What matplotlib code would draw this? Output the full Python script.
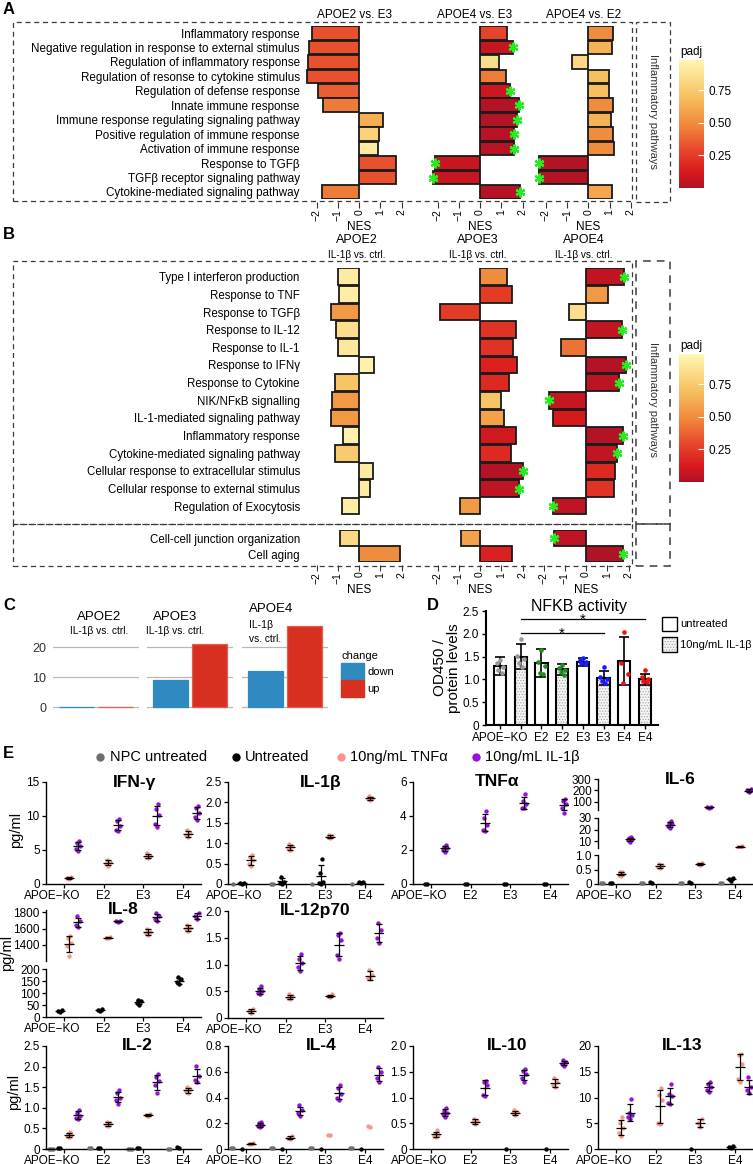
import numpy as np
import matplotlib
matplotlib.use('Agg')
import matplotlib.pyplot as plt
from matplotlib.colors import LinearSegmentedColormap, Normalize
from matplotlib.cm import ScalarMappable
from matplotlib.patches import Rectangle
from matplotlib.lines import Line2D
import matplotlib.transforms as mtransforms

plt.rcParams['font.family'] = ['Liberation Sans', 'DejaVu Sans']
plt.rcParams['hatch.linewidth'] = 0.6

# ---------------- Panel A data (NES, padj, significant) ----------------
a_terms = ["Inflammatory response",
           "Negative regulation in response to external stimulus",
           "Regulation of inflammatory response",
           "Regulation of resonse to cytokine stimulus",
           "Regulation of defense response",
           "Innate immune response",
           "Immune response regulating signaling pathway",
           "Positive regulation of immune response",
           "Activation of immune response",
           "Response to TGFβ",
           "TGFβ receptor signaling pathway",
           "Cytokine-mediated signaling pathway"]
a_titles = ["APOE2 vs. E3", "APOE4 vs. E3", "APOE4 vs. E2"]
a_e2e3_nes = [-2.24, -2.35, -2.42, -2.44, -1.95, -1.69, 1.10, 0.95, 0.88, 1.75, 1.75, -1.75]
a_e2e3_padj = [0.32, 0.32, 0.32, 0.32, 0.36, 0.45, 0.63, 0.79, 0.92, 0.32, 0.32, 0.45]
a_e2e3_sig = [0, 0, 0, 0, 0, 0, 0, 0, 0, 0, 0, 0]
a_e4e3_nes = [1.29, 1.53, 0.89, 1.24, 1.43, 1.82, 1.74, 1.59, 1.62, -2.12, -2.20, 1.88]
a_e4e3_padj = [0.28, 0.08, 0.85, 0.45, 0.09, 0.02, 0.02, 0.03, 0.03, 0.08, 0.08, 0.02]
a_e4e3_sig = [0, 1, 0, 0, 1, 1, 1, 1, 1, 1, 1, 1]
a_e4e2_nes = [1.18, 1.10, -0.78, 0.99, 0.99, 1.18, 1.05, 1.18, 1.22, -2.30, -2.30, 1.13]
a_e4e2_padj = [0.50, 0.64, 0.82, 0.70, 0.70, 0.50, 0.65, 0.50, 0.50, 0.02, 0.02, 0.60]
a_e4e2_sig = [0, 0, 0, 0, 0, 0, 0, 0, 0, 1, 1, 0]

# ---------------- Panel B data ----------------
b_terms = ["Type I interferon production", "Response to TNF", "Response to TGFβ",
           "Response to IL-12", "Response to IL-1", "Response to IFNγ",
           "Response to Cytokine", "NIK/NFκB signalling",
           "IL-1-mediated signaling pathway", "Inflammatory response",
           "Cytokine-mediated signaling pathway",
           "Cellular response to extracellular stimulus",
           "Cellular response to external stimulus", "Regulation of Exocytosis"]
b_terms2 = ["Cell-cell junction organization", "Cell aging"]
b_titles = ["APOE2", "APOE3", "APOE4"]
b_e2_nes = [-1.0, -0.95, -1.32, -1.08, -1.0, 0.71, -1.14, -1.29, -1.34, -0.74, -1.14, 0.67, 0.51, -0.82]
b_e2_padj = [0.92, 0.93, 0.55, 0.85, 0.90, 0.95, 0.72, 0.55, 0.55, 0.95, 0.75, 0.92, 0.92, 0.93]
b_e2_sig = [0] * 14
b_e3_nes = [1.25, 1.49, -1.88, 1.68, 1.57, 1.76, 1.38, 0.97, 1.13, 1.69, 1.45, 2.0, 1.85, -0.94]
b_e3_padj = [0.50, 0.25, 0.25, 0.22, 0.22, 0.15, 0.18, 0.72, 0.58, 0.10, 0.18, 0.02, 0.05, 0.55]
b_e3_sig = [0, 0, 0, 0, 0, 0, 0, 0, 0, 0, 0, 1, 1, 0]
b_e4_nes = [1.79, 1.05, -0.79, 1.71, -1.17, 1.87, 1.53, -1.72, -1.53, 1.76, 1.45, 1.38, 1.30, -1.53]
b_e4_padj = [0.05, 0.55, 0.85, 0.06, 0.42, 0.02, 0.04, 0.07, 0.12, 0.02, 0.06, 0.18, 0.22, 0.05]
b_e4_sig = [1, 0, 0, 1, 0, 1, 1, 1, 0, 1, 1, 0, 0, 1]
b2_e2_nes, b2_e2_padj, b2_e2_sig = [-0.92, 1.90], [0.82, 0.50], [0, 0]
b2_e3_nes, b2_e3_padj, b2_e3_sig = [-0.90, 1.52], [0.58, 0.15], [0, 0]
b2_e4_nes, b2_e4_padj, b2_e4_sig = [-1.52, 1.73], [0.05, 0.01], [1, 1]

# ---------------- Panel C data (number of DE genes) ----------------
c_groups = ["APOE2", "APOE3", "APOE4"]
c_down = [0, 9, 12]
c_up = [0, 21, 27]

# ---------------- Panel D data (NFKB activity) ----------------
d_labels = ["APOE−KO", "", "E2", "E2", "E3", "E3", "E4", "E4"]
d_treated = [0, 1, 0, 1, 0, 1, 0, 1]
d_mean = [1.30, 1.50, 1.36, 1.22, 1.38, 1.03, 1.40, 1.00]
d_sd = [0.20, 0.27, 0.30, 0.12, 0.08, 0.15, 0.53, 0.12]
d_points = [[1.42, 1.35, 1.28, 1.20, 1.15],
            [1.88, 1.52, 1.45, 1.35, 1.28],
            [1.65, 1.38, 1.30, 1.13, 1.12],
            [1.32, 1.25, 1.20, 1.16, 1.10],
            [1.46, 1.42, 1.38, 1.35, 1.33],
            [1.27, 1.05, 1.00, 0.96, 0.93],
            [2.05, 1.35, 1.12, 0.93],
            [1.21, 1.05, 1.00, 0.97, 0.95]]

# ---------------- Panel E data (pg/ml, groups KO, E2, E3, E4) ----------------
e_groups = ["APOE−KO", "E2", "E3", "E4"]
e_legend = ["NPC untreated", "Untreated", "10ng/mL TNFα", "10ng/mL IL-1β"]

ifng_npc = None
ifng_unt = None
ifng_tnf = [[0.7, 0.85, 1.05], [2.7, 3.0, 3.3, 3.6], [3.8, 3.95, 4.1, 4.5], [6.9, 7.2, 7.5, 7.9]]
ifng_il1b = [[4.8, 5.2, 5.6, 6.1, 6.3], [7.8, 8.0, 8.6, 9.2, 9.6],
             [8.4, 8.8, 10.2, 11.0, 11.7], [9.4, 9.9, 10.4, 11.2, 11.5]]

il1b_npc = [[0.0], [0.01, 0.01], [0.0], [0.0]]
il1b_unt = [[0.0, 0.02, 0.03], [0.0, 0.03, 0.06, 0.18], [0.0, 0.03, 0.06, 0.28, 0.62], [0.02, 0.04, 0.05]]
il1b_tnf = [[0.45, 0.5, 0.58, 0.65, 0.7], [0.83, 0.88, 0.93, 0.97], [1.12, 1.15, 1.18, 1.2], [2.05, 2.08, 2.12, 2.15]]
il1b_il1b = None

tnfa_npc = None
tnfa_unt = [[0.0, 0.01], [0.0, 0.01], [0.0, 0.01], [0.0, 0.01]]
tnfa_tnf = None
tnfa_il1b = [[1.9, 2.0, 2.1, 2.2, 2.3], [3.1, 3.2, 3.5, 3.9, 4.3],
             [4.45, 4.5, 4.7, 4.9, 5.3], [4.2, 4.5, 4.7, 4.9, 5.0]]

il6_npc = [[0.02, 0.02], [0.02, 0.02], [0.02, 0.02], [0.02, 0.02]]
il6_unt = [[0.03, 0.05], [0.04, 0.06], [0.04, 0.06], [0.12, 0.17, 0.2]]
il6_tnf = [[0.28, 0.32, 0.36, 0.4, 0.43], [0.55, 0.6, 0.65, 0.68], [0.67, 0.7, 0.74], [4.6, 5.0, 5.3]]
il6_il1b = [[9.5, 10.5, 11.5, 12.5, 13.5], [21, 23, 24.5, 26, 27], [50, 55, 60], [185, 200, 212]]

il8_npc = None
il8_unt = [[20, 24, 28], [27, 30, 33], [50, 60, 66, 72], [138, 145, 158, 165]]
il8_tnf = [[1260, 1380, 1420, 1480, 1510], [1480, 1490, 1500], [1520, 1540, 1560, 1600], [1570, 1590, 1610, 1650]]
il8_il1b = [[1620, 1650, 1700, 1750], [1680, 1690, 1700], [1690, 1720, 1760, 1790], [1720, 1750, 1790]]

il12_npc = None
il12_unt = None
il12_tnf = [[0.1, 0.13, 0.17], [0.36, 0.38, 0.41, 0.44], [0.39, 0.41, 0.44], [0.72, 0.75, 0.8, 0.9]]
il12_il1b = [[0.44, 0.47, 0.5, 0.54, 0.59], [0.88, 0.95, 1.02, 1.1, 1.2],
             [1.1, 1.18, 1.45, 1.55, 1.58], [1.4, 1.5, 1.65, 1.78]]

il2_npc = [[0.01, 0.01, 0.01], [0.02, 0.02], [0.01, 0.01, 0.01], [0.01, 0.01]]
il2_unt = [[0.02, 0.03], [0.02, 0.03], [0.02, 0.03], [0.03, 0.04]]
il2_tnf = [[0.3, 0.31, 0.33, 0.36, 0.42], [0.56, 0.59, 0.62, 0.66], [0.8, 0.83, 0.86], [1.35, 1.4, 1.45, 1.5]]
il2_il1b = [[0.72, 0.76, 0.8, 0.88, 0.95], [1.1, 1.18, 1.25, 1.35, 1.42],
            [1.35, 1.55, 1.65, 1.75, 1.82], [1.62, 1.68, 1.78, 2.02]]

il4_npc = [[0.005, 0.005], [0.005, 0.005], [0.005, 0.005], [0.005, 0.005]]
il4_unt = [[0.002], [0.002], [0.002], [0.002]]
il4_tnf = [[0.036, 0.042, 0.048], [0.078, 0.088, 0.1], [0.105, 0.11], [0.172, 0.18]]
il4_il1b = [[0.17, 0.18, 0.19, 0.2, 0.21], [0.26, 0.28, 0.3, 0.34],
            [0.38, 0.4, 0.43, 0.47, 0.5], [0.52, 0.55, 0.6, 0.64]]

il10_npc = None
il10_unt = [None, None, [0.0], [0.0]]
il10_tnf = [[0.23, 0.25, 0.27, 0.3, 0.37], [0.48, 0.52, 0.55, 0.58], [0.66, 0.69, 0.72, 0.75], [1.2, 1.25, 1.3, 1.38]]
il10_il1b = [[0.63, 0.67, 0.7, 0.74, 0.79], [1.02, 1.05, 1.25, 1.3, 1.32],
             [1.3, 1.38, 1.45, 1.52, 1.55], [1.62, 1.65, 1.68, 1.72]]

il13_npc = None
il13_unt = [None, None, [0.05], [0.15, 0.35, 0.55]]
il13_tnf = [[2.5, 3.1, 4.0, 5.0, 6.2], [4.8, 5.1, 9.5, 10.5, 11.8], [4.3, 5.0, 5.8], [13.0, 13.5, 16.5, 18.2, 18.4]]
il13_il1b = [[5.8, 6.2, 6.6, 7.0, 9.8], [8.7, 9.0, 10.2, 10.6, 12.7],
             [11.0, 11.5, 12.0, 12.6, 13.1], [10.8, 11.4, 12.0, 14.0]]

# ---------------- figure helpers (pixel coordinates, origin top-left) ----------------
W, H = 753, 1164
fig = plt.figure(figsize=(W / 100, H / 100), dpi=100)


def pax(x0, y0, x1, y1):
    ax = fig.add_axes([x0 / W, 1 - y1 / H, (x1 - x0) / W, (y1 - y0) / H])
    ax.patch.set_alpha(0)
    return ax


def ftext(x, y, s, **kw):
    return fig.text(x / W, 1 - y / H, s, **kw)


def dbox(x0, y0, x1, y1, dash=(4, 3), lw=0.9):
    fig.add_artist(Rectangle((x0 / W, 1 - y1 / H), (x1 - x0) / W, (y1 - y0) / H,
                             transform=fig.transFigure, fill=False, lw=lw,
                             ls=(0, dash), ec='#3a3a3a'))


padj_cmap = LinearSegmentedColormap.from_list(
    'padj', [(0, '#ad1127'), (0.12, '#d7191c'), (0.3, '#e8472b'), (0.5, '#f08a3c'),
             (0.72, '#f7c260'), (1, '#fff6b4')])
norm = Normalize(0, 0.98)
PX = 21.25  # pixels per NES unit


def nes_axes(zero_px, ytop, ybot, nrows, ticks):
    half = 2.6 * PX
    ax = pax(zero_px - half, ytop, zero_px + half, ybot)
    ax.set_xlim(-2.6, 2.6)
    ax.set_ylim(nrows - 0.5, -0.5)
    for s in ax.spines.values():
        s.set_visible(False)
    ax.set_yticks([])
    if ticks:
        ax.spines['bottom'].set_position(('outward', 2))
        ax.set_xticks([-2, -1, 0, 1, 2])
        ax.set_xticklabels(['−2', '−1', '0', '1', '2'], rotation=90)
        ax.tick_params(axis='x', length=4, width=0.8, labelsize=7.5, pad=1, color='#333333')
        ax.set_xlabel('NES', fontsize=8.5, labelpad=0)
    else:
        ax.set_xticks([])
    return ax


def nes_bars(ax, nes, padj, sig):
    y = np.arange(len(nes))
    ax.barh(y, nes, height=0.94, color=padj_cmap(norm(padj)), edgecolor='#1a1a1a', lw=1.3, zorder=2)
    for yi, v, s in zip(y, nes, sig):
        if s:
            ax.plot(v, yi, marker=(6, 2, 0), ms=7, mew=1.6, color='#22ee22', zorder=3, clip_on=False)


def row_labels(ax, terms, size):
    ax.set_yticks(np.arange(len(terms)))
    ax.set_yticklabels(terms, fontsize=size)
    ax.tick_params(axis='y', length=0, pad=3)


def padj_bar(x0, y0, x1, y1):
    cax = pax(x0, y0, x1, y1)
    cb = fig.colorbar(ScalarMappable(norm=norm, cmap=padj_cmap), cax=cax)
    cb.outline.set_visible(False)
    cb.set_ticks([0.25, 0.5, 0.75])
    cb.set_ticklabels(['0.25', '0.50', '0.75'])
    cax.tick_params(length=4, width=0.8, color='white', direction='in', labelsize=8.5, pad=3)
    ftext(x0 + 1, y0 - 8, 'padj', fontsize=8.5, ha='left', va='center')


# ---------------- Panel A ----------------
ftext(3, 9, 'A', fontsize=12, fontweight='bold', va='center')
a_zero = [359.2, 480.0, 588.3]
a_sets = [(a_e2e3_nes, a_e2e3_padj, a_e2e3_sig), (a_e4e3_nes, a_e4e3_padj, a_e4e3_sig),
          (a_e4e2_nes, a_e4e2_padj, a_e4e2_sig)]
for k, (z, (nes, padj, sig)) in enumerate(zip(a_zero, a_sets)):
    ax = nes_axes(z, 25.8, 199.2, len(a_terms), True)
    nes_bars(ax, nes, padj, sig)
    if k == 0:
        row_labels(ax, a_terms, 8.4)
    ftext(z - 5, 15, a_titles[k], fontsize=8.5, ha='center', va='center')
dbox(13, 22, 632, 201)
dbox(636, 22, 670, 202)
ftext(653, 112, 'Inflammatory pathways', rotation=-90, fontsize=8, ha='center', va='center', color='#333333')
padj_bar(679, 60, 704, 188)

# ---------------- Panel B ----------------
ftext(3, 235, 'B', fontsize=12, fontweight='bold', va='center')
b_zero = [359.2, 480.0, 586.0]
b_sets = [(b_e2_nes, b_e2_padj, b_e2_sig), (b_e3_nes, b_e3_padj, b_e3_sig), (b_e4_nes, b_e4_padj, b_e4_sig)]
b2_sets = [(b2_e2_nes, b2_e2_padj, b2_e2_sig), (b2_e3_nes, b2_e3_padj, b2_e3_sig),
           (b2_e4_nes, b2_e4_padj, b2_e4_sig)]
for k, z in enumerate(b_zero):
    ax = nes_axes(z, 267.9, 515.0, len(b_terms), False)
    nes_bars(ax, *b_sets[k])
    ax2 = nes_axes(z, 530.0, 562.0, len(b_terms2), True)
    nes_bars(ax2, *b2_sets[k])
    if k == 0:
        row_labels(ax, b_terms, 8.3)
        row_labels(ax2, b_terms2, 8.3)
    ftext(z - 2, 240, b_titles[k], fontsize=9, ha='center', va='center')
    ftext(z - 2, 255, 'IL-1β vs. ctrl.', fontsize=7.2, ha='center', va='center')
dbox(13, 261, 632, 524)
dbox(13, 524, 632, 566)
dbox(636, 261, 670, 524, dash=(5, 4), lw=1.1)
dbox(636, 524, 670, 566, dash=(5, 4), lw=1.1)
ftext(653, 400, 'Inflammatory pathways', rotation=-90, fontsize=8, ha='center', va='center', color='#333333')
padj_bar(679, 354, 704, 482)

# ---------------- Panel C ----------------
ftext(3, 605, 'C', fontsize=12, fontweight='bold', va='center')
c_x0 = [53, 147, 242]
for k, x0 in enumerate(c_x0):
    ax = pax(x0, 614, x0 + 86, 708.5)
    ax.set_xlim(-0.6, 1.6)
    ax.set_ylim(-0.5, 31)
    ax.bar([0, 1], [c_down[k], c_up[k]], 0.9, color=['#2f8ac0', '#d83020'],
           edgecolor=['#2f8ac0', '#e06050'], lw=0.9, zorder=3)
    ax.set_yticks([0, 10, 20])
    ax.grid(axis='y', color='#b8b8b8', lw=0.9)
    ax.set_axisbelow(True)
    for s in ax.spines.values():
        s.set_visible(False)
    ax.set_xticks([])
    ax.tick_params(axis='y', length=0, pad=5, labelsize=9, labelcolor='#333333')
    if k > 0:
        ax.set_yticklabels([])
ftext(99, 617, 'APOE2', fontsize=9.5, ha='center', va='center')
ftext(99, 631, 'IL-1β vs. ctrl.', fontsize=7.3, ha='center', va='center')
ftext(175, 617, 'APOE3', fontsize=9.5, ha='center', va='center')
ftext(175, 631, 'IL-1β vs. ctrl.', fontsize=7.3, ha='center', va='center')
ftext(249, 609, 'APOE4', fontsize=9.5, ha='left', va='center')
ftext(249, 625, 'IL-1β', fontsize=7.5, ha='left', va='center')
ftext(249, 639, 'vs. ctrl.', fontsize=7.3, ha='left', va='center')
ftext(342, 656, 'change', fontsize=8, ha='left', va='center')
fig.add_artist(Rectangle((341 / W, 1 - 680 / H), 23 / W, 17 / H, transform=fig.transFigure, color='#2f8ac0'))
fig.add_artist(Rectangle((341 / W, 1 - 697 / H), 23 / W, 17 / H, transform=fig.transFigure, color='#d83020'))
ftext(367, 672, 'down', fontsize=8, ha='left', va='center')
ftext(367, 689, 'up', fontsize=8, ha='left', va='center')

# ---------------- Panel D ----------------
ftext(427, 606, 'D', fontsize=12, fontweight='bold', va='center')
d_colors = ['#9a9a9a', '#9a9a9a', '#1e8c1e', '#1e8c1e', '#1a1aff', '#1a1aff', '#ee1111', '#ee1111']
dax = pax(486, 611, 658, 725)
dax.set_xlim(-0.68, 7.63)
dax.set_ylim(0, 2.5)
dx = np.arange(len(d_mean))
for i in dx:
    if d_treated[i]:
        dax.bar(i, d_mean[i], 0.6, color='#f6f6f6', hatch='......', edgecolor='#a8a8a8', lw=0, zorder=1)
    else:
        dax.bar(i, d_mean[i], 0.6, color='white', zorder=1)
    dax.bar(i, d_mean[i], 0.6, fill=False, edgecolor='black', lw=1.5, zorder=2)
    pts = np.asarray(d_points[i])
    xs = i + np.resize([0.0, -0.16, 0.16, -0.08, 0.08], len(pts))
    dax.scatter(xs, pts, s=11, color=d_colors[i], lw=0, zorder=4, clip_on=False)
dax.errorbar(dx, d_mean, yerr=d_sd, fmt='none', ecolor='black', elinewidth=1.2, capsize=3.5, capthick=1.2, zorder=3)
dax.plot([1, 7], [2.32, 2.32], color='black', lw=0.9, clip_on=False)
dax.plot([1, 5], [2.02, 2.02], color='black', lw=0.9, clip_on=False)
dax.text(4, 2.30, '*', ha='center', va='center', fontsize=11)
dax.text(3, 2.00, '*', ha='center', va='center', fontsize=11)
for s in ['top', 'right']:
    dax.spines[s].set_visible(False)
dax.spines['left'].set_linewidth(1.5)
dax.spines['bottom'].set_linewidth(1.5)
dax.set_yticks([0, 0.5, 1.0, 1.5, 2.0, 2.5])
dax.set_yticklabels(['0', '0.5', '1.0', '1.5', '2.0', '2.5'])
dax.set_xticks(dx)
dax.set_xticklabels(d_labels)
dax.tick_params(labelsize=8.5, length=3, width=1, pad=2)
ftext(579, 606, 'NFKB activity', fontsize=11.5, ha='center', va='center')
ftext(440, 668, 'OD450 /', fontsize=11, rotation=90, ha='center', va='center')
ftext(454, 668, 'protein levels', fontsize=11, rotation=90, ha='center', va='center')
fig.add_artist(Rectangle((662 / W, 1 - 631 / H), 15 / W, 14 / H, transform=fig.transFigure,
                         fc='white', ec='black', lw=1))
fig.add_artist(Rectangle((662 / W, 1 - 652 / H), 15 / W, 15 / H, transform=fig.transFigure,
                         fc='#f6f6f6', ec='#a8a8a8', hatch='......', lw=0))
fig.add_artist(Rectangle((662 / W, 1 - 652 / H), 15 / W, 15 / H, transform=fig.transFigure,
                         fill=False, ec='black', lw=1))
ftext(680, 624, 'untreated', fontsize=8, ha='left', va='center')
ftext(680, 645, '10ng/mL IL-1β', fontsize=8, ha='left', va='center')

# ---------------- Panel E ----------------
ftext(3, 754, 'E', fontsize=12, fontweight='bold', va='center')
e_offsets = [-0.33, -0.1, 0.12, 0.35]
e_colors = ['#6e6e6e', '#000000', '#f8968a', '#9a0fe0']
e_spread = [0.0, -0.05, 0.05, -0.025, 0.025]
for xd, xt, col, lab in zip([100, 236, 341, 476], [110, 245, 350, 485], e_colors, e_legend):
    fig.add_artist(Line2D([xd / W], [1 - 757 / H], marker='o', ms=5, color=col, ls='',
                          transform=fig.transFigure))
    ftext(xt, 757, lab, fontsize=10.5, ha='left', va='center')

e_cols = [46, 228, 413, 598]
e_rows = [(782, 884), (911, 1018), (1046, 1149)]
EW = 155


def e_style(ax, bottom):
    for s in ['top', 'right']:
        ax.spines[s].set_visible(False)
    ax.spines['left'].set_linewidth(1)
    ax.set_xlim(-0.45, 3.45)
    ax.tick_params(labelsize=8.5, length=3, width=0.9, pad=1.5)
    if bottom:
        ax.spines['bottom'].set_linewidth(1)
        ax.set_xticks(range(4))
        ax.set_xticklabels(e_groups)
        lab = ax.get_xticklabels()[0]
        lab.set_transform(lab.get_transform() + mtransforms.ScaledTranslation(-0.12, 0, fig.dpi_scale_trans))
    else:
        ax.spines['bottom'].set_visible(False)
        ax.set_xticks([])


def e_plot(ax, series, clip, lo=-np.inf, hi=np.inf):
    for off, col, groups in zip(e_offsets, e_colors, series):
        if groups is None:
            continue
        for g, pts in enumerate(groups):
            if pts is None:
                continue
            pts = np.asarray(pts, float)
            xs = g + off + np.resize(e_spread, len(pts))
            keep = (pts >= lo) & (pts <= hi)
            if keep.any():
                ax.scatter(xs[keep], pts[keep], s=10, color=col, lw=0, zorder=3, clip_on=clip)
            m = pts.mean()
            if len(pts) > 2 and lo <= m <= hi:
                ax.errorbar(g + off, m, yerr=pts.std(ddof=1), fmt='_', color='black', ms=7,
                            mew=0.9, elinewidth=0.9, capsize=2.2, capthick=0.9, zorder=4)


def e_title(ax, title, tx):
    ax.text(tx, 1.0, title, transform=ax.transAxes, ha='center', va='center',
            fontsize=12.5, fontweight='bold')


def e_simple(col, row, title, tx, ymax, yticks, ylabels, series):
    top, bot = e_rows[row]
    x0 = e_cols[col]
    ax = pax(x0, top, x0 + EW, bot)
    ax.set_ylim(0, ymax)
    e_style(ax, True)
    ax.set_yticks(yticks)
    ax.set_yticklabels(ylabels)
    e_plot(ax, series, False)
    e_title(ax, title, tx)


def e_broken(col, segs, title, tx, series):
    x0 = e_cols[col]
    n = len(segs)
    for j, (lo, hi, ybot, ytop, yticks, ylabels) in enumerate(segs):
        ax = pax(x0, ytop, x0 + EW, ybot)
        ax.set_ylim(lo, hi)
        e_style(ax, j == 0)
        ax.set_yticks(yticks)
        ax.set_yticklabels(ylabels)
        e_plot(ax, series, j > 0, lo if j > 0 else -np.inf, hi)
        if j == n - 1:
            e_title(ax, title, tx)


e_simple(0, 0, 'IFN-γ', 0.57, 15, [0, 5, 10, 15], ['0', '5', '10', '15'],
         [ifng_npc, ifng_unt, ifng_tnf, ifng_il1b])
e_simple(1, 0, 'IL-1β', 0.6, 2.5, [0, 0.5, 1, 1.5, 2, 2.5], ['0', '0.5', '1.0', '1.5', '2.0', '2.5'],
         [il1b_npc, il1b_unt, il1b_tnf, il1b_il1b])
e_simple(2, 0, 'TNFα', 0.54, 6, [0, 2, 4, 6], ['0', '2', '4', '6'],
         [tnfa_npc, tnfa_unt, tnfa_tnf, tnfa_il1b])
e_broken(3, [(0, 1.0, 884, 855, [0, 0.5, 1.0], ['0', '0.5', '1.0']),
             (4, 30, 848, 818, [10, 20, 30], ['10', '20', '30']),
             (30, 300, 810, 779, [100, 200, 300], ['100', '200', '300'])],
         'IL-6', 0.53, [il6_npc, il6_unt, il6_tnf, il6_il1b])
e_broken(0, [(0, 200, 1017, 969, [0, 50, 100, 150, 200], ['0', '50', '100', '150', '200']),
             (1200, 1830, 961, 910, [1400, 1600, 1800], ['1400', '1600', '1800'])],
         'IL-8', 0.5, [il8_npc, il8_unt, il8_tnf, il8_il1b])
e_simple(1, 1, 'IL-12p70', 0.56, 2.0, [0, 0.5, 1, 1.5, 2], ['0', '0.5', '1.0', '1.5', '2.0'],
         [il12_npc, il12_unt, il12_tnf, il12_il1b])
e_simple(0, 2, 'IL-2', 0.59, 2.5, [0, 0.5, 1, 1.5, 2, 2.5], ['0', '0.5', '1.0', '1.5', '2.0', '2.5'],
         [il2_npc, il2_unt, il2_tnf, il2_il1b])
e_simple(1, 2, 'IL-4', 0.6, 0.8, [0, 0.2, 0.4, 0.6, 0.8], ['0', '0.2', '0.4', '0.6', '0.8'],
         [il4_npc, il4_unt, il4_tnf, il4_il1b])
e_simple(2, 2, 'IL-10', 0.61, 2.0, [0, 0.5, 1, 1.5, 2], ['0', '0.5', '1.0', '1.5', '2.0'],
         [il10_npc, il10_unt, il10_tnf, il10_il1b])
e_simple(3, 2, 'IL-13', 0.54, 20, [0, 5, 10, 15, 20], ['0', '5', '10', '15', '20'],
         [il13_npc, il13_unt, il13_tnf, il13_il1b])

for x, y in [(16, 830), (7, 953), (14, 1092)]:
    ftext(x, y, 'pg/ml', fontsize=10.5, rotation=90, ha='center', va='center')

fig.savefig('out.png', dpi=100)
